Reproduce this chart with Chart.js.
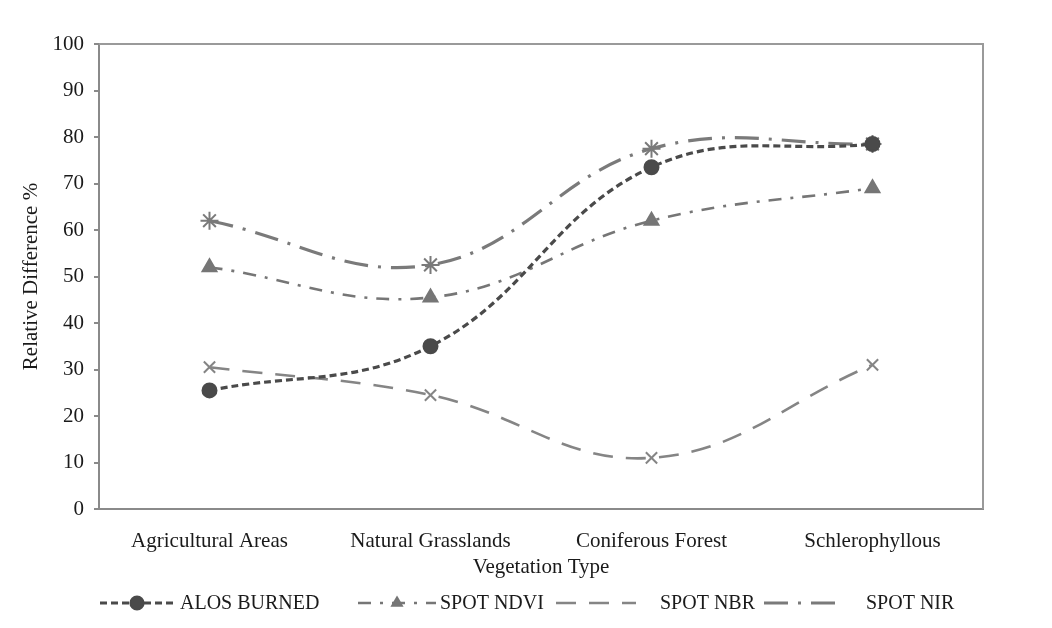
<!DOCTYPE html>
<html>
<head>
<meta charset="utf-8">
<script src="https://cdn.jsdelivr.net/npm/chart.js@4"></script>
<style>
  html, body { margin: 0; padding: 0; background: #fff; }
  #wrap { width: 1052px; height: 628px; }
</style>
</head>
<body>
<div id="wrap"><canvas id="canvas"></canvas></div>
<script>
// datos
const categorias = ["Agricultural Areas", "Natural Grasslands", "Coniferous Forest", "Schlerophyllous"];
const alosBurned = [25.5, 35, 73.5, 78.5];
const spotNdvi = [52, 45.5, 62, 69];
const spotNbr = [30.5, 24.5, 11, 31];
const spotNir = [62, 52.5, 77.5, 78.5];
const ticksY = [0, 10, 20, 30, 40, 50, 60, 70, 80, 90, 100];

const fuente = "'Liberation Serif', 'Times New Roman', serif";

const series = [
  { label: "ALOS BURNED", data: alosBurned, color: "#4a4a4a", dash: [7, 4], width: 3.2, point: "circle", radius: 7 },
  { label: "SPOT NDVI", data: spotNdvi, color: "#767676", dash: [13, 9, 3, 9], width: 2.6, point: "triangle", radius: 8 },
  { label: "SPOT NBR", data: spotNbr, color: "#858585", dash: [20, 13], width: 2.6, point: "crossRot", radius: 8 },
  { label: "SPOT NIR", data: spotNir, color: "#7a7a7a", dash: [24, 10, 3, 10], width: 3.2, point: "star", radius: 9 },
];

// caja del area del grafico y leyenda propia
const marcoYLeyenda = {
  id: "marcoYLeyenda",
  afterDraw(chart) {
    const ctx = chart.ctx;
    const a = chart.chartArea;
    ctx.save();
    ctx.strokeStyle = "#9a9a9a";
    ctx.lineWidth = 2;
    ctx.beginPath();
    ctx.moveTo(a.left, a.top);
    ctx.lineTo(a.right, a.top);
    ctx.lineTo(a.right, a.bottom);
    ctx.stroke();

    // leyenda
    const y = 603;
    const items = [
      { lineFrom: 100, lineTo: 176, mark: 137, text: 180 },
      { lineFrom: 358, lineTo: 436, mark: 397, text: 440 },
      { lineFrom: 556, lineTo: 636, mark: null, text: 660 },
      { lineFrom: 764, lineTo: 844, mark: null, text: 866 },
    ];
    items.forEach((it, i) => {
      const s = series[i];
      ctx.strokeStyle = s.color;
      ctx.lineWidth = s.width;
      ctx.setLineDash(s.dash);
      ctx.beginPath();
      ctx.moveTo(it.lineFrom, y);
      ctx.lineTo(it.lineTo, y);
      ctx.stroke();
      ctx.setLineDash([]);
      if (it.mark !== null) {
        Chart.helpers.drawPoint(ctx, {
          pointStyle: s.point, radius: i === 1 ? 5 : 6, borderWidth: 1, rotation: 0,
        }, it.mark, y);
        ctx.fillStyle = s.color;
        ctx.fill();
      }
      ctx.fillStyle = "#1a1a1a";
      ctx.font = "20px " + fuente;
      ctx.textBaseline = "middle";
      ctx.fillText(s.label, it.text, y + 1);
    });
    ctx.restore();
  },
};

new Chart(document.getElementById("canvas"), {
  type: "line",
  data: {
    labels: categorias,
    datasets: series.map((s) => ({
      label: s.label,
      data: s.data,
      borderColor: s.color,
      backgroundColor: s.color,
      borderWidth: s.width,
      borderDash: s.dash,
      pointStyle: s.point,
      pointRadius: s.radius,
      pointBorderWidth: 2,
      pointBorderColor: s.color,
      pointBackgroundColor: s.color,
      tension: 0.4,
      fill: false,
    })),
  },
  options: {
    responsive: true,
    maintainAspectRatio: false,
    animation: false,
    layout: { padding: { left: 19, top: 44, right: 69, bottom: 48 } },
    plugins: {
      legend: { display: false },
      tooltip: { enabled: false },
    },
    scales: {
      x: {
        offset: true,
        grid: { display: false },
        border: { color: "#8a8a8a", width: 2 },
        ticks: { color: "#1a1a1a", font: { family: fuente, size: 21 }, padding: 12 },
        title: { display: true, text: "Vegetation Type", color: "#1a1a1a", font: { family: fuente, size: 21 }, padding: { top: 2, bottom: 0 } },
        afterFit: (scale) => { scale.height = 71; },
      },
      y: {
        min: 0,
        max: 100,
        afterBuildTicks: (scale) => { scale.ticks = ticksY.map((v) => ({ value: v })); },
        grid: { drawOnChartArea: false, drawTicks: true, tickLength: 5, color: "#8a8a8a", lineWidth: 2 },
        border: { color: "#8a8a8a", width: 2 },
        ticks: { color: "#1a1a1a", font: { family: fuente, size: 21 }, padding: 10 },
        title: { display: true, text: "Relative Difference %", color: "#1a1a1a", font: { family: fuente, size: 21 }, padding: { top: 0, bottom: 12 } },
        afterFit: (scale) => { scale.width = 80; },
      },
    },
  },
  plugins: [marcoYLeyenda],
});
</script>
</body>
</html>
